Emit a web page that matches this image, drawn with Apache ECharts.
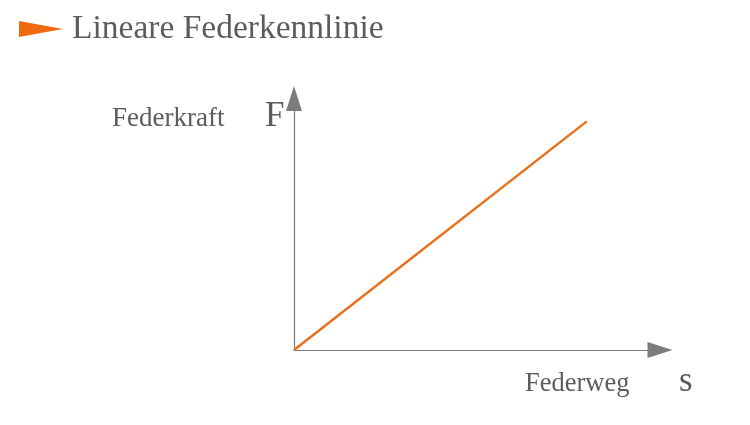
<!DOCTYPE html>
<html>
<head>
<meta charset="utf-8">
<script src="https://cdn.jsdelivr.net/npm/echarts@6/dist/echarts.min.js"></script>
<style>
  html, body { margin: 0; padding: 0; background: #fff; }
  #chart { width: 750px; height: 425px; }
</style>
</head>
<body>
<div id="chart"></div>
<script>
// spring characteristic: force grows linearly with travel
const weg = [0, 10];
const kraft = [0, 10];

const titleText = 'Lineare Federkennlinie';
const yName = 'Federkraft';
const ySymbol = 'F';
const xName = 'Federweg';
const xSymbol = 's';

const grey = '#5c5c5c';
const orange = '#E8701C';
const serif = '"Liberation Serif", "DejaVu Serif", serif';

const chart = echarts.init(document.getElementById('chart'));

const points = weg.map((w, i) => [w, kraft[i]]);

chart.setOption({
  animation: false,
  grid: { left: 294, top: 98.5, width: 366, height: 251.5 },
  xAxis: {
    type: 'value',
    min: 0,
    max: 12.5,
    axisLine: {
      show: true,
      symbol: ['none', 'triangle'],
      symbolSize: [16, 25],
      lineStyle: { color: '#7c7c7c', width: 1.2 }
    },
    axisTick: { show: false },
    axisLabel: { show: false },
    splitLine: { show: false }
  },
  yAxis: {
    type: 'value',
    min: 0,
    max: 11,
    axisLine: {
      show: true,
      symbol: ['none', 'triangle'],
      symbolSize: [16, 25],
      lineStyle: { color: '#7c7c7c', width: 1.2 }
    },
    axisTick: { show: false },
    axisLabel: { show: false },
    splitLine: { show: false }
  },
  series: [{
    type: 'line',
    data: points,
    showSymbol: false,
    lineStyle: { color: orange, width: 2.5 }
  }],
  graphic: [
    {
      type: 'polygon',
      shape: { points: [[19, 21], [63, 29], [19, 37]] },
      style: { fill: '#F26A10' }
    },
    {
      type: 'text', x: 72, y: 12,
      style: { text: titleText, font: '33.5px ' + serif, fill: grey }
    },
    {
      type: 'text', x: 112, y: 105,
      style: { text: yName, font: '27px ' + serif, fill: grey }
    },
    {
      type: 'text', x: 265, y: 99,
      style: { text: ySymbol, font: '35px ' + serif, fill: grey }
    },
    {
      type: 'text', x: 525, y: 371,
      style: { text: xName, font: '26.5px ' + serif, fill: grey }
    },
    {
      type: 'text', x: 679, y: 364,
      style: { text: xSymbol, font: '35px ' + serif, fill: grey }
    }
  ]
});
</script>
</body>
</html>
